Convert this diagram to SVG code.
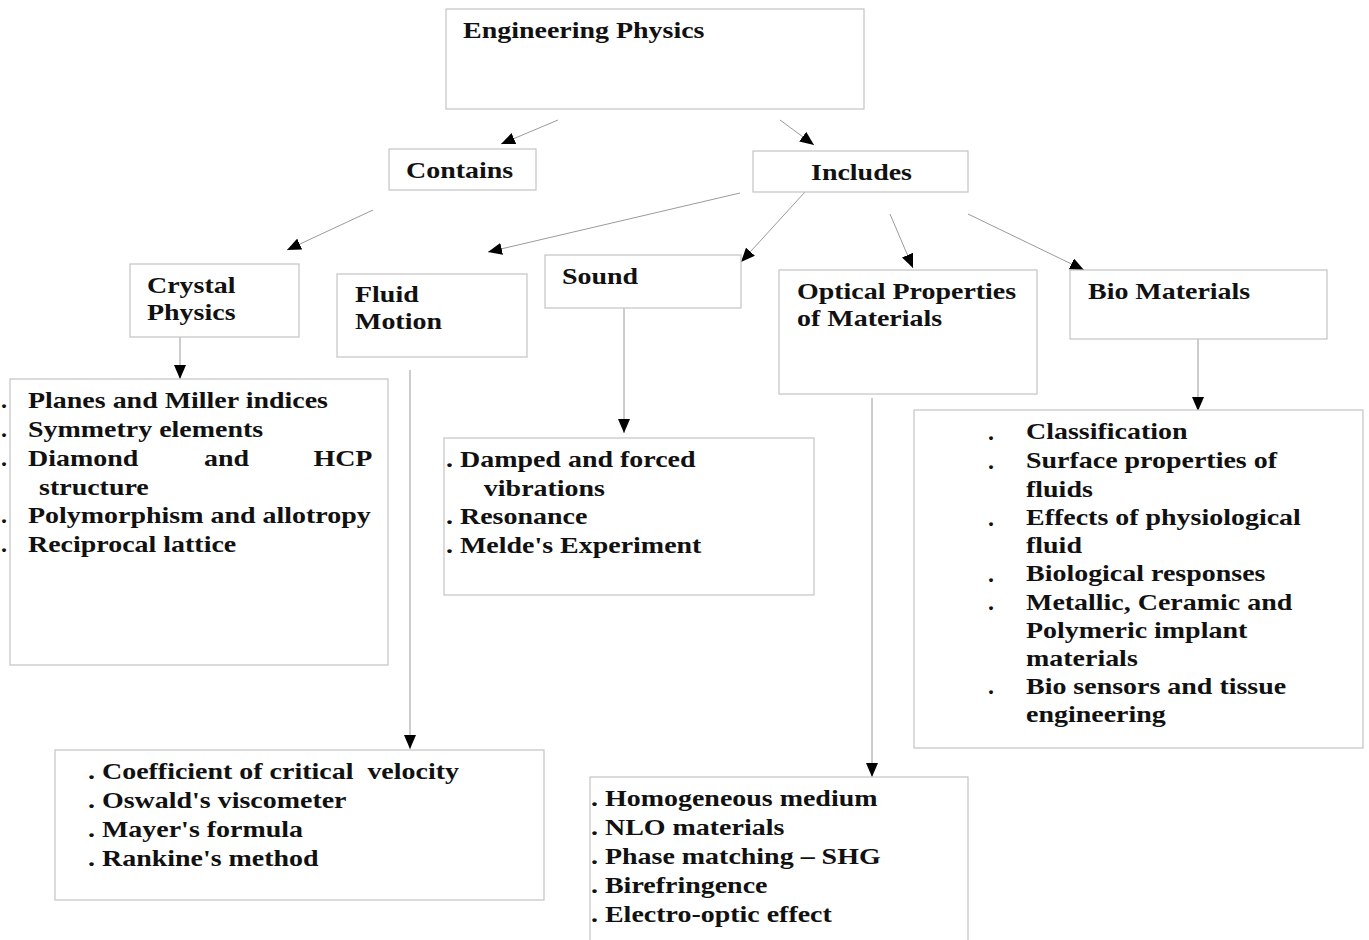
<svg xmlns="http://www.w3.org/2000/svg" width="1369" height="940" viewBox="0 0 1369 940">
  <style>
    .box { fill: #ffffff; stroke: #c4c4c4; stroke-width: 1.2; }
    .t { font-family: "Liberation Serif", "Times New Roman", serif; font-weight: bold; font-size: 24px; fill: #111111; }
    .link { fill: none; stroke: #9a9a9a; stroke-width: 1; marker-end: url(#head); }
  </style>
  <defs>
    <marker id="head" markerUnits="userSpaceOnUse" markerWidth="15" markerHeight="12" refX="14" refY="6" orient="auto">
      <path d="M0,0 L14,6 L0,12 Z" fill="#000"/>
    </marker>
  </defs>
  <rect width="1369" height="940" fill="#ffffff"/>

  <!-- connectors -->
  <g id="connectors">
    <line class="link" x1="558" y1="120" x2="501" y2="144"/>
    <line class="link" x1="780" y1="120" x2="814" y2="145"/>
    <line class="link" x1="373" y1="210" x2="287" y2="250"/>
    <line class="link" x1="740" y1="193" x2="488" y2="252"/>
    <line class="link" x1="805" y1="192" x2="741" y2="262"/>
    <line class="link" x1="890" y1="214" x2="913" y2="268"/>
    <line class="link" x1="968" y1="214" x2="1084" y2="270"/>
    <line class="link" x1="180" y1="328" x2="180" y2="379"/>
    <line class="link" x1="410" y1="370" x2="410" y2="749"/>
    <line class="link" x1="624" y1="308" x2="624" y2="433"/>
    <line class="link" x1="872" y1="398" x2="872" y2="777"/>
    <line class="link" x1="1198" y1="339" x2="1198" y2="411"/>
  </g>

  <g id="engineering-physics">
    <rect class="box" x="446" y="9" width="418" height="100"/>
    <text class="t" transform="matrix(1.165 0 0 1 463 0)" x="0" y="38">Engineering Physics</text>
  </g>

  <g id="contains">
    <rect class="box" x="389" y="149" width="147" height="41"/>
    <text class="t" transform="matrix(1.165 0 0 1 406 0)" x="0" y="178">Contains</text>
  </g>

  <g id="includes">
    <rect class="box" x="753" y="151" width="215" height="41"/>
    <text class="t" transform="matrix(1.165 0 0 1 811 0)" x="0" y="180">Includes</text>
  </g>

  <g id="crystal-physics">
    <rect class="box" x="130" y="264" width="169" height="73"/>
    <text class="t" transform="matrix(1.165 0 0 1 147 0)"><tspan x="0" y="293">Crystal</tspan><tspan x="0" y="320">Physics</tspan></text>
  </g>

  <g id="fluid-motion">
    <rect class="box" x="337" y="274" width="190" height="83"/>
    <text class="t" transform="matrix(1.165 0 0 1 355 0)"><tspan x="0" y="302">Fluid</tspan><tspan x="0" y="329">Motion</tspan></text>
  </g>

  <g id="sound">
    <rect class="box" x="545" y="255" width="196" height="53"/>
    <text class="t" transform="matrix(1.165 0 0 1 562 0)" x="0" y="284">Sound</text>
  </g>

  <g id="optical-properties">
    <rect class="box" x="779" y="270" width="258" height="124"/>
    <text class="t" transform="matrix(1.165 0 0 1 797 0)"><tspan x="0" y="299">Optical Properties</tspan><tspan x="0" y="326">of Materials</tspan></text>
  </g>

  <g id="bio-materials">
    <rect class="box" x="1070" y="270" width="257" height="69"/>
    <text class="t" transform="matrix(1.165 0 0 1 1088 0)" x="0" y="299">Bio Materials</text>
  </g>

  <g id="crystal-topics">
    <rect class="box" x="10" y="379" width="378" height="286"/>
    <text class="t"><tspan x="1" y="408">.</tspan><tspan x="1" y="437">.</tspan><tspan x="1" y="466">.</tspan><tspan x="1" y="523">.</tspan><tspan x="1" y="552">.</tspan></text>
    <text class="t" transform="matrix(1.165 0 0 1 28 0)">
      <tspan x="0" y="408">Planes and Miller indices</tspan>
      <tspan x="0" y="437">Symmetry elements</tspan>
      <tspan x="0" y="466">Diamond</tspan><tspan x="151" y="466">and</tspan><tspan x="245" y="466">HCP</tspan>
      <tspan x="9.5" y="495">structure</tspan>
      <tspan x="0" y="523">Polymorphism and allotropy</tspan>
      <tspan x="0" y="552">Reciprocal lattice</tspan>
    </text>
  </g>

  <g id="fluid-topics">
    <rect class="box" x="55" y="750" width="489" height="150"/>
    <text class="t" transform="matrix(1.165 0 0 1 88 0)">
      <tspan x="0" y="779">. Coefficient of critical&#160; velocity</tspan>
      <tspan x="0" y="808">. Oswald's viscometer</tspan>
      <tspan x="0" y="837">. Mayer's formula</tspan>
      <tspan x="0" y="866">. Rankine's method</tspan>
    </text>
  </g>

  <g id="sound-topics">
    <rect class="box" x="444" y="438" width="370" height="157"/>
    <text class="t" transform="matrix(1.165 0 0 1 446 0)">
      <tspan x="0" y="467">. Damped and forced</tspan>
      <tspan x="32.5" y="496">vibrations</tspan>
      <tspan x="0" y="524">. Resonance</tspan>
      <tspan x="0" y="553">. Melde's Experiment</tspan>
    </text>
  </g>

  <g id="optical-topics">
    <rect class="box" x="590" y="777" width="378" height="175"/>
    <text class="t" transform="matrix(1.165 0 0 1 591 0)">
      <tspan x="0" y="806">. Homogeneous medium</tspan>
      <tspan x="0" y="835">. NLO materials</tspan>
      <tspan x="0" y="864">. Phase matching – SHG</tspan>
      <tspan x="0" y="893">. Birefringence</tspan>
      <tspan x="0" y="922">. Electro-optic effect</tspan>
    </text>
  </g>

  <g id="bio-topics">
    <rect class="box" x="914" y="410" width="449" height="338"/>
    <text class="t"><tspan x="988" y="440">.</tspan><tspan x="988" y="469">.</tspan><tspan x="988" y="526">.</tspan><tspan x="988" y="582">.</tspan><tspan x="988" y="610">.</tspan><tspan x="988" y="694">.</tspan></text>
    <text class="t" transform="matrix(1.165 0 0 1 1026 0)">
      <tspan x="0" y="439">Classification</tspan>
      <tspan x="0" y="468">Surface properties of</tspan>
      <tspan x="0" y="497">fluids</tspan>
      <tspan x="0" y="525">Effects of physiological</tspan>
      <tspan x="0" y="553">fluid</tspan>
      <tspan x="0" y="581">Biological responses</tspan>
      <tspan x="0" y="610">Metallic, Ceramic and</tspan>
      <tspan x="0" y="638">Polymeric implant</tspan>
      <tspan x="0" y="666">materials</tspan>
      <tspan x="0" y="694">Bio sensors and tissue</tspan>
      <tspan x="0" y="722">engineering</tspan>
    </text>
  </g>
</svg>
